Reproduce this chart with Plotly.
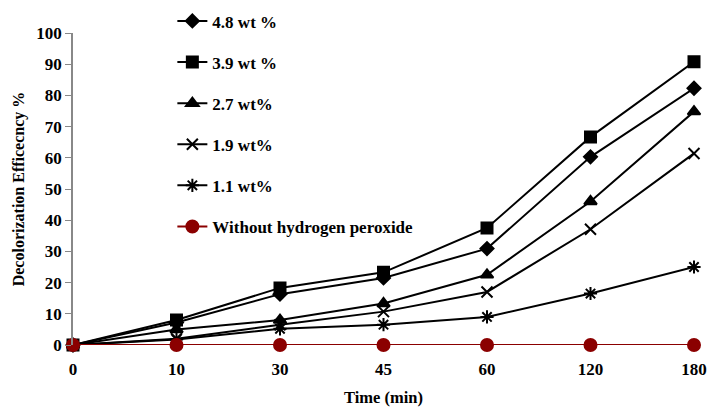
import plotly.graph_objects as go

time_labels = ["0", "10", "30", "45", "60", "120", "180"]

s_48 = [0, 7.2, 16.3, 21.5, 30.9, 60.3, 82.3]
s_39 = [0, 8.0, 18.3, 23.3, 37.5, 66.7, 90.8]
s_27 = [0, 5.0, 8.0, 13.3, 22.5, 46.0, 74.8]
s_19 = [0, 2.0, 6.5, 10.7, 17.0, 37.1, 61.4]
s_11 = [0, 1.8, 5.2, 6.5, 9.0, 16.5, 25.0]
s_none = [0, 0, 0, 0, 0, 0, 0]

names = ["4.8 wt %", "3.9 wt %", "2.7 wt%", "1.9 wt%", "1.1 wt%", "Without hydrogen peroxide"]
series = [s_48, s_39, s_27, s_19, s_11, s_none]
symbols = ["diamond", "square", "triangle-up", "x-thin-open", "asterisk-open", "circle"]
sizes = [10, 11, 11, 11, 11, 12]
colors = ["black", "black", "black", "black", "black", "#8B0000"]

font_family = "Liberation Serif, Times New Roman, serif"

fig = go.Figure()
for i, (nm, ys, sym, sz, col) in enumerate(zip(names, series, symbols, sizes, colors)):
    fig.add_trace(go.Scatter(
        x=time_labels, y=ys, name=nm, mode="lines+markers",
        line=dict(color=col, width=2),
        marker=dict(symbol=sym, size=sz, color=col,
                    line=dict(color=col, width=2)),
        legendgroup=str(i),
        cliponaxis=False,
    ))

fig.update_layout(
    width=707, height=407,
    margin=dict(l=73, r=13, t=33, b=62, autoexpand=False),
    paper_bgcolor="white", plot_bgcolor="white",
    font=dict(family=font_family, size=15, color="black"),
    showlegend=True,
    legend=dict(
        x=0.160, xanchor="left",
        yref="container", y=0.9917, yanchor="top",
        font=dict(family=font_family, size=17, color="black", weight="bold"),
        tracegroupgap=16,
        bgcolor="rgba(0,0,0,0)",
        maxheight=400,
    ),
    xaxis=dict(
        type="category", range=[0, 6], automargin=False,
        showgrid=False, zeroline=False, showline=False,
        ticks="", ticklabelstandoff=12,
        tickfont=dict(family=font_family, size=17, color="black", weight="bold"),
        title=dict(text="<b>Time (min)</b>", font=dict(family=font_family, size=16.5), standoff=14),
    ),
    yaxis=dict(
        range=[0, 100], dtick=10, automargin=False,
        showgrid=False, zeroline=False,
        showline=True, linecolor="#888888", linewidth=1.5,
        ticks="outside", ticklen=6, tickcolor="#888888",
        tickfont=dict(family=font_family, size=17, color="black", weight="bold"),
        title=dict(text="<b>Decolorization Efficecncy %</b>", font=dict(family=font_family, size=16), standoff=8),
    ),
)

fig.write_html("out.html", config={"displayModeBar": False},
               post_script="document.body.style.margin='0';document.body.style.overflow='hidden';")
